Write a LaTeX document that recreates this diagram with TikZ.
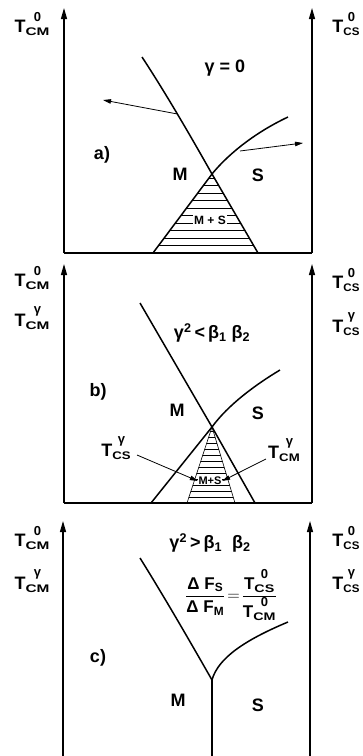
\documentclass[tikz,border=0pt]{standalone}
\usepackage{graphicx}
\usepackage{fontspec}
\setmainfont{Liberation Sans}
\usetikzlibrary{arrows.meta}
\newcommand\supf{\fontsize{13}{13}\selectfont}
\newcommand\subf{\fontsize{11}{11}\selectfont}
% \TT[stretch]{subscript}{superscript}
\newcommand\TT[3][1.4]{T\raisebox{-3pt}{\shortstack[c]{\supf #3\\[2.5pt]\scalebox{#1}[1]{\subf #2}}}}
\tikzset{
  lbl/.style={font=\bfseries\fontsize{18}{20}\selectfont, inner sep=0pt},
  axis/.style={line width=1.2pt, -{Triangle[length=11pt,width=6pt]}},
  base/.style={line width=1.2pt},
  curve/.style={line width=1.5pt},
  ptr/.style={line width=0.8pt, -{Triangle[length=8pt,width=4.5pt]}},
  hatch/.style={line width=0.6pt},
  mix/.style={font=\bfseries\fontsize{12}{12}\selectfont, fill=white, inner sep=1pt},
}
\begin{document}
\begin{tikzpicture}[x=1pt,y=-1pt]
\useasboundingbox (0,0) rectangle (363,756);
% ---------------- panel a ----------------
\coordinate (aL0) at (64,253);
\coordinate (aLt) at (64,8);
\coordinate (aR0) at (312,253);
\coordinate (aRt) at (312,8);
\coordinate (aA) at (212,174);
\coordinate (aB1) at (153,253);
\coordinate (aB2) at (258,253);
\begin{scope}
  \clip (aA) -- (aB1) -- (aB2) -- cycle;
  \foreach \k in {1,...,10} \draw[hatch] (140,{253-7.5*\k}) -- (270,{253-7.5*\k});
\end{scope}
\node[mix] (amix) at (210,220) {M + S};
\draw[axis] (aL0) -- (aLt);
\draw[axis] (aR0) -- (aRt);
\draw[base] (aL0) -- (aR0);
\draw[curve] (142,57) .. controls (165,92) and (190,135) .. (aA) -- (aB2);
\draw[curve] (288,117) .. controls (250,135) and (225,158) .. (aA) -- (aB1);
\coordinate (ap1) at (177.5,114);
\coordinate (ap1e) at (103,100);
\coordinate (ap2) at (240,151);
\coordinate (ap2e) at (303,143);
\draw[ptr] (ap1) -- (ap1e);
\draw[ptr] (ap2) -- (ap2e);
\node[lbl] (aT1) at (32,24) {\TT{CM}{0}};
\node[lbl] (aT2) at (346,24) {\TT[1.05]{CS}{0}};
\node[lbl] (ag) at (225,68) {γ = 0};
\node[lbl] (alab) at (102,155) {a)};
\node[lbl] (aM) at (180,174) {M};
\node[lbl] (aS) at (258,175) {S};
% ---------------- panel b ----------------
\coordinate (bL0) at (64,503);
\coordinate (bLt) at (64,264);
\coordinate (bR0) at (312,503);
\coordinate (bRt) at (312,264);
\coordinate (bA) at (212,427);
\coordinate (bB1) at (151,503);
\coordinate (bB2) at (255,503);
\coordinate (bI1) at (187,503);
\coordinate (bI2) at (235,503);
\begin{scope}
  \clip (bA) -- (bI1) -- (bI2) -- cycle;
  \foreach \k in {1,...,12} \draw[hatch] (180,{503-6*\k}) -- (245,{503-6*\k});
\end{scope}
\draw[hatch] (bI1) -- (bA) -- (bI2);
\node[mix, font=\bfseries\fontsize{11}{11}\selectfont, inner sep=0.5pt] (bmix) at (210,481) {M+S};
\draw[axis] (bL0) -- (bLt);
\draw[axis] (bR0) -- (bRt);
\draw[base] (bL0) -- (bR0);
\draw[curve] (140,303) -- (bA) -- (bB2);
\draw[curve] (280,370) .. controls (255,385) and (228,405) .. (bA) -- (bB1);
\node[lbl] (bT1) at (32,278) {\TT{CM}{0}};
\node[lbl] (bT2) at (32,318) {\TT{CM}{γ}};
\node[lbl] (bT3) at (346,280) {\TT[1.05]{CS}{0}};
\node[lbl] (bT4) at (346,324) {\TT[1.05]{CS}{γ}};
\node[lbl] (bg) at (212,333) {γ\textsuperscript{2}\,<\,β\textsubscript{1} β\textsubscript{2}};
\node[lbl] (blab) at (98,392) {b)};
\node[lbl] (bM) at (177,410) {M};
\node[lbl] (bS) at (258,413) {S};
\node[lbl] (bTcs) at (116,448) {\TT[1.2]{CS}{γ}};
\node[lbl] (bTcm) at (284,450) {\TT[1.2]{CM}{γ}};
\coordinate (bp1) at (137,455);
\coordinate (bp2) at (266,459);
\draw[ptr] (bp1) -- (bmix.west);
\draw[ptr] (bp2) -- (bmix.east);
% ---------------- panel c ----------------
\coordinate (cL0) at (63,756);
\coordinate (cLt) at (63,521);
\coordinate (cR0) at (310,756);
\coordinate (cRt) at (310,521);
\coordinate (cA) at (212,680);
\coordinate (cB) at (212,756);
\draw[axis] (cL0) -- (cLt);
\draw[axis] (cR0) -- (cRt);
\draw[curve] (140,558) .. controls (165,598) and (192,645) .. (cA);
\draw[curve] (288,622) .. controls (245,640) and (218,658) .. (cA);
\draw[curve] (cA) -- (cB);
\node[lbl] (cT1) at (32,538) {\TT{CM}{0}};
\node[lbl] (cT2) at (32,581) {\TT{CM}{γ}};
\node[lbl] (cT3) at (346,538) {\TT[1.05]{CS}{0}};
\node[lbl] (cT4) at (346,581) {\TT[1.05]{CS}{γ}};
\node[lbl] (cg) at (210,543) {γ\textsuperscript{2}\,>\,β\textsubscript{1}\; β\textsubscript{2}};
\node[lbl, font=\bfseries\fontsize{17}{19}\selectfont] (cfr) at (231,595)
  {$\displaystyle\frac{\mbox{Δ F\textsubscript{S}}}{\mbox{Δ F\textsubscript{M}}}\!=\!\frac{\mbox{\TT[1.3]{CS}{0}}}{\mbox{\TT[1.3]{CM}{0}}}$};
\node[lbl] (clab) at (98,658) {c)};
\node[lbl] (cM) at (178,700) {M};
\node[lbl] (cS) at (258,705) {S};
\end{tikzpicture}
\end{document}
